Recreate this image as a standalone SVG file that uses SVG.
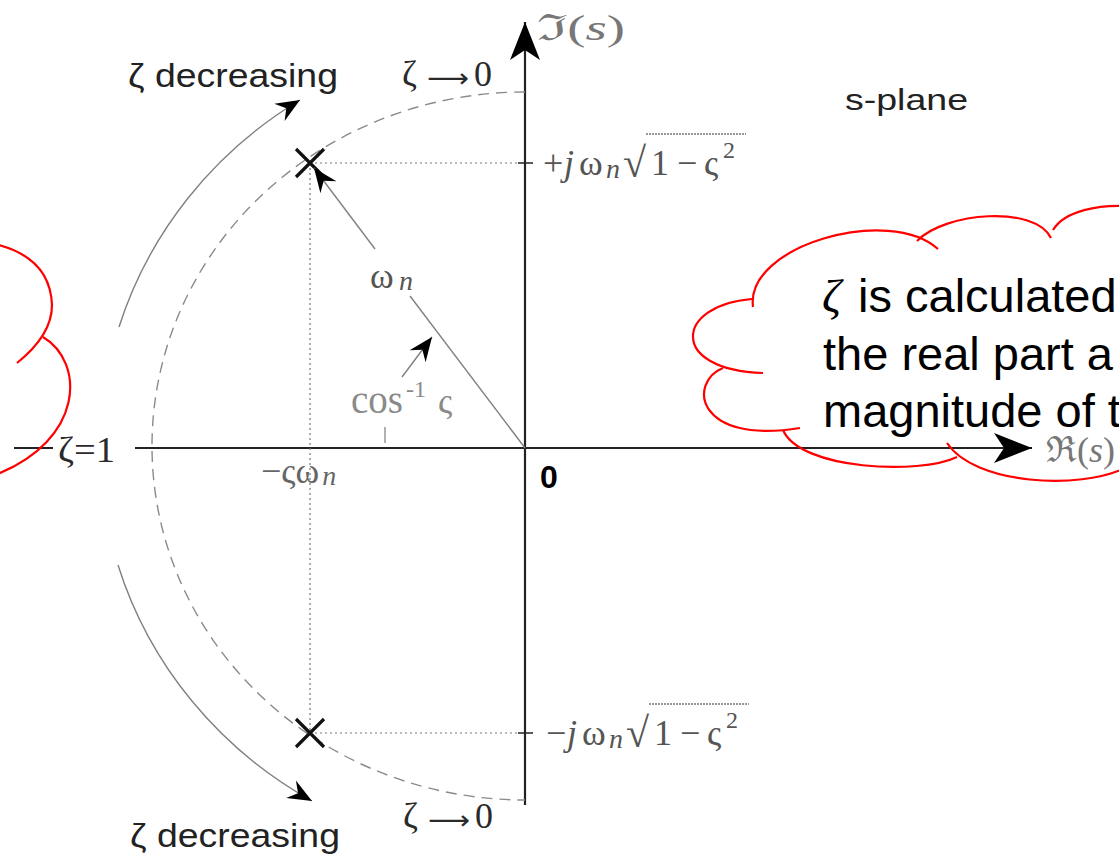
<svg xmlns="http://www.w3.org/2000/svg" width="1119" height="858" viewBox="0 0 1119 858">
<style>
.axis{stroke:#222;stroke-width:2.2;fill:none}
.gray{stroke:#808080;stroke-width:1.4;fill:none}
.dash{stroke:#8a8a8a;stroke-width:1.4;fill:none;stroke-dasharray:11 7}
.dot{stroke:#777;stroke-width:1.2;fill:none;stroke-dasharray:2 3}
.pole{stroke:#111;stroke-width:3.2;fill:none}
.cloud{stroke:#ff0000;stroke-width:2.2;fill:none}
.math{font-family:"Liberation Serif","DejaVu Serif",serif;font-size:36px;fill:#555}
.dark{fill:#2a2a2a}
.arr{font-family:"DejaVu Sans",sans-serif}
.sans{font-family:"Liberation Sans",Arial,sans-serif;fill:#222}
.it{font-style:italic}
.ctext{font-family:"Liberation Sans",Arial,sans-serif;font-size:47px;fill:#000}
</style>
<defs>
<marker id="bigArrow" markerUnits="userSpaceOnUse" viewBox="-40 -16 42 32" markerWidth="42" markerHeight="32" refX="0" refY="0" orient="auto">
<path d="M0,0 L-38,-15 L-28,0 L-38,15 Z" fill="#000"/>
</marker>
<marker id="smallArrow" markerUnits="userSpaceOnUse" viewBox="-26 -11 28 22" markerWidth="28" markerHeight="22" refX="0" refY="0" orient="auto">
<path d="M0,0 L-24,-10 L-16,0 L-24,10 Z" fill="#000"/>
</marker>
</defs>
<rect width="1119" height="858" fill="#fff"/>

<g id="axes">
<line class="axis" x1="525" y1="805" x2="525" y2="22" marker-end="url(#bigArrow)"/>
<line class="axis" x1="135" y1="448" x2="1032" y2="448" marker-end="url(#bigArrow)"/>
<line class="axis" x1="14" y1="448" x2="53" y2="448"/>
<line class="axis" x1="518" y1="163" x2="533" y2="163" style="stroke-width:1.5"/>
<line class="axis" x1="518" y1="733" x2="533" y2="733" style="stroke-width:1.5"/>
<line class="axis" x1="385" y1="427" x2="385" y2="443" style="stroke:#888;stroke-width:1.3"/>
</g>

<g id="locus">
<path class="dash" d="M525,92 A373,354 0 0,0 525,800"/>
<line class="dot" x1="310" y1="163" x2="518" y2="163"/>
<line class="dot" x1="310" y1="733" x2="518" y2="733"/>
<line class="dot" x1="310" y1="163" x2="310" y2="733"/>
</g>

<g id="pole-upper">
<path class="pole" d="M296,149 L324,177 M324,149 L296,177"/>
</g>
<g id="pole-lower">
<path class="pole" d="M296,719 L324,747 M324,719 L296,747"/>
</g>

<g id="connectors">
<path class="gray" d="M119,327 A425,410 0 0,1 300,100" marker-end="url(#smallArrow)"/>
<path class="gray" d="M118,565 A425,410 0 0,0 312,801" marker-end="url(#smallArrow)"/>
<line class="gray" x1="525" y1="448" x2="410" y2="296"/>
<line class="gray" x1="375" y1="249" x2="314" y2="168" marker-end="url(#smallArrow)"/>
<line class="gray" x1="402" y1="377" x2="432" y2="337" marker-end="url(#smallArrow)"/>
</g>

<g id="labels">
<text class="sans" font-size="33" x="128" y="87" textLength="210" lengthAdjust="spacingAndGlyphs">ζ decreasing</text>
<text class="sans" font-size="33" x="130" y="847" textLength="210" lengthAdjust="spacingAndGlyphs">ζ decreasing</text>
<g class="math dark" font-size="30">
<text x="402" y="86">ζ</text>
<text class="arr" x="427" y="87" font-size="26" textLength="42" lengthAdjust="spacingAndGlyphs">⟶</text>
<text x="474" y="86">0</text>
<text x="403" y="828">ζ</text>
<text class="arr" x="428" y="829" font-size="26" textLength="42" lengthAdjust="spacingAndGlyphs">⟶</text>
<text x="475" y="828">0</text>
</g>
<text class="math dark" font-size="34" x="58" y="462" textLength="57" lengthAdjust="spacingAndGlyphs">ζ=1</text>
<text class="math" font-size="40" x="537" y="40" style="fill:#777" textLength="88" lengthAdjust="spacingAndGlyphs">ℑ(<tspan class="it">s</tspan>)</text>
<text class="math" font-size="40" x="1046" y="462" style="fill:#777">ℜ(<tspan class="it">s</tspan>)</text>
<text class="sans" font-size="30" x="845" y="110" textLength="123" lengthAdjust="spacingAndGlyphs">s-plane</text>
<text class="sans" font-size="32" font-weight="bold" x="540" y="488" style="fill:#000">0</text>
<text class="math" x="370" y="288">ω<tspan class="it" font-size="28" x="399" dy="2">n</tspan></text>
<text class="math" y="413" style="fill:#8a8a8a"><tspan x="351" font-size="39">cos</tspan><tspan x="406" font-size="24" dy="-16">-1</tspan><tspan x="438" dy="16">ς</tspan></text>
<text class="math" x="261" y="483" style="fill:#666">−ςω<tspan class="it" font-size="28" dx="3" dy="2">n</tspan></text>
</g>

<g id="label-plus">
<text class="math" y="175"><tspan x="543">+</tspan><tspan class="it" x="564">j</tspan><tspan x="579">ω</tspan><tspan class="it" x="606" font-size="28" dy="3">n</tspan><tspan x="623" font-size="42" dy="-1">√</tspan><tspan x="651" dy="-2">1</tspan><tspan x="677">−</tspan><tspan x="704">ς</tspan><tspan x="723" font-size="24" dy="-17">2</tspan></text>
<line x1="646" y1="134" x2="746" y2="134" stroke="#777" stroke-width="1.3" stroke-dasharray="2 1"/>
</g>
<g id="label-minus">
<text class="math" y="745"><tspan x="546">−</tspan><tspan class="it" x="567">j</tspan><tspan x="582">ω</tspan><tspan class="it" x="609" font-size="28" dy="3">n</tspan><tspan x="626" font-size="42" dy="-1">√</tspan><tspan x="654" dy="-2">1</tspan><tspan x="680">−</tspan><tspan x="707">ς</tspan><tspan x="726" font-size="24" dy="-17">2</tspan></text>
<line x1="649" y1="704" x2="749" y2="704" stroke="#777" stroke-width="1.3" stroke-dasharray="2 1"/>
</g>

<g id="cloud-left">
<path class="cloud" d="M-10,243 Q50,255 52,305 Q52,335 17,363"/>
<path class="cloud" d="M43,337 C85,362 85,440 -5,475"/>
</g>

<g id="cloud-right">
<path class="cloud" d="M753,307 C745,245 890,205 938,249"/>
<path class="cloud" d="M917,241 C945,212 1035,205 1051,238"/>
<path class="cloud" d="M1053,230 C1065,210 1100,205 1125,206"/>
<path class="cloud" d="M752,299 C675,305 668,370 763,373"/>
<path class="cloud" d="M723,368 C688,382 695,445 800,428"/>
<path class="cloud" d="M783,430 C800,470 920,475 957,457"/>
<path class="cloud" d="M947,443 C975,485 1080,490 1125,468"/>
<text class="ctext" y="312"><tspan x="822" font-family="Liberation Serif, serif" font-style="italic">ζ</tspan><tspan x="858">is calculated</tspan></text>
<text class="ctext" x="823" y="370">the real part a</text>
<text class="ctext" x="823" y="427">magnitude of t</text>
</g>
</svg>
